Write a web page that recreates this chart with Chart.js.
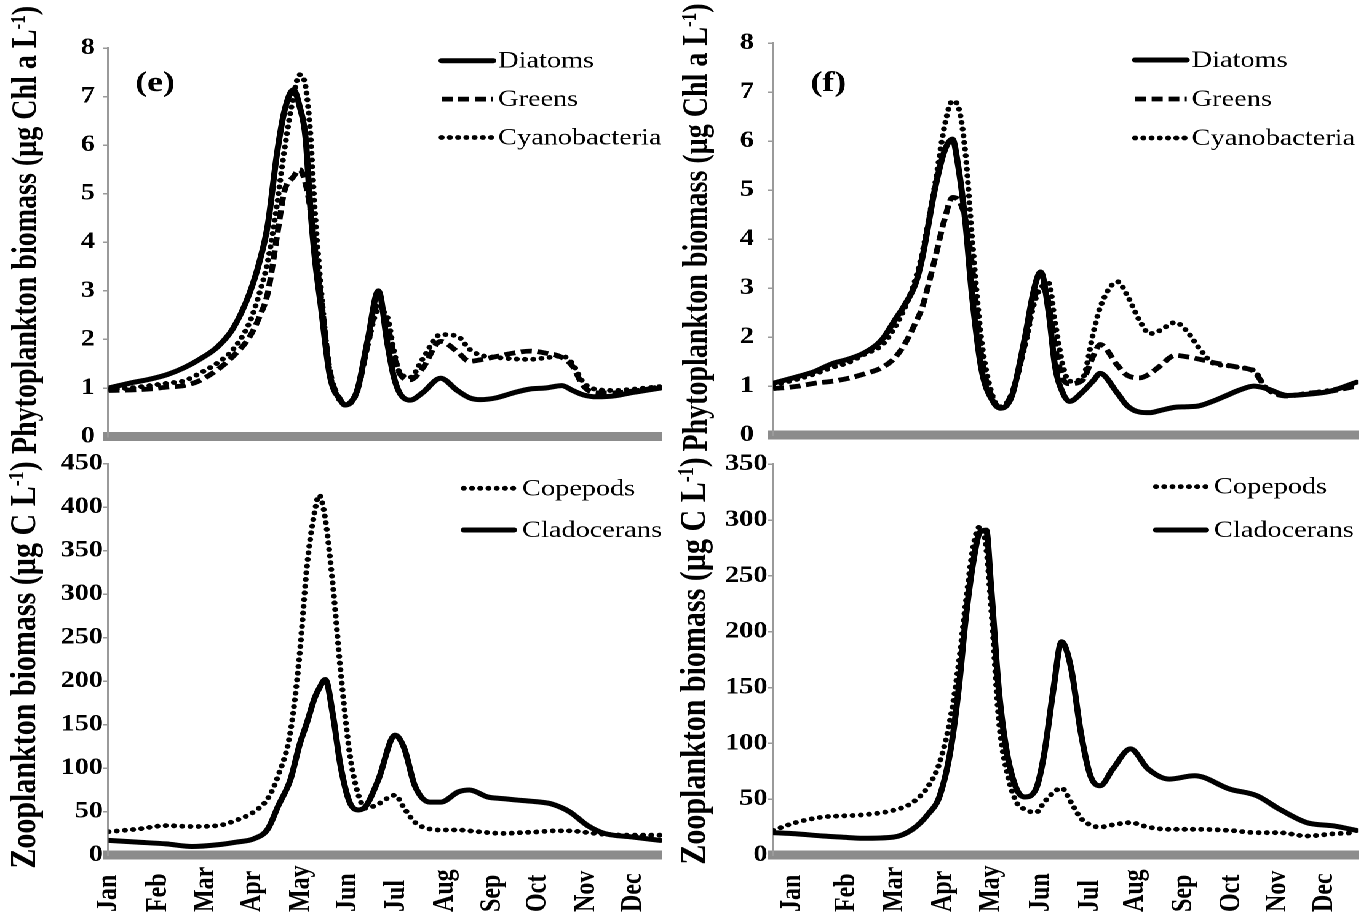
<!DOCTYPE html>
<html>
<head>
<meta charset="utf-8">
<script src="https://cdn.jsdelivr.net/npm/chart.js@4.4.1/dist/chart.umd.min.js"></script>
<style>
  html, body { margin: 0; padding: 0; background: #fff; }
  /* the figure is set slightly wide: everything is drawn narrow, then stretched */
  #sheet { position: absolute; left: 0; top: 0; width: 1110.6px; height: 924px;
           transform: scaleX(1.23); transform-origin: 0 0; }
  #sheet canvas { position: absolute; }
</style>
</head>
<body>
<div id="sheet">
  <canvas id="phytoE" width="556" height="460" style="left:0;top:0;width:556px;height:460px"></canvas>
  <canvas id="zooE" width="556" height="476" style="left:0;top:448px;width:556px;height:476px"></canvas>
  <canvas id="phytoF" width="571" height="460" style="left:540px;top:0;width:571px;height:460px"></canvas>
  <canvas id="zooF" width="571" height="476" style="left:540px;top:448px;width:571px;height:476px"></canvas>
</div>
<script>
const months = ['Jan', 'Feb', 'Mar', 'Apr', 'May', 'Jun', 'Jul', 'Aug', 'Sep', 'Oct', 'Nov', 'Dec'];
const monthDaysE = [0, 33, 64, 95, 127, 158, 190, 222, 253, 283, 315, 346];
const monthDaysF = [12, 46, 76, 106, 136, 167, 198, 226, 256, 286, 315, 344];

const phytoTicks = [0, 1, 2, 3, 4, 5, 6, 7, 8];
const zooTicksE = [0, 50, 100, 150, 200, 250, 300, 350, 400, 450];
const zooTicksF = [0, 50, 100, 150, 200, 250, 300, 350];

// (e) phytoplankton, µg Chl a / L
const phytoDaysE = [0, 14, 27, 39, 50, 60, 72, 82, 93, 100, 105, 111, 116, 122, 126, 130, 133, 136, 140, 146, 153, 156, 164, 171, 178, 184, 188, 192, 199, 207, 219, 230, 238, 245, 256, 267, 278, 288, 299, 306, 313, 322, 334, 344, 354, 364];
const diatomsE = [1.0, 1.1, 1.18, 1.28, 1.42, 1.59, 1.85, 2.22, 2.95, 3.65, 4.35, 5.8, 6.7, 7.14, 6.8, 6.14, 4.76, 3.7, 2.7, 1.25, 0.75, 0.65, 0.95, 2.0, 3.0, 1.9, 1.25, 0.9, 0.75, 0.9, 1.2, 0.95, 0.8, 0.76, 0.8, 0.9, 0.98, 1.0, 1.05, 0.95, 0.86, 0.82, 0.84, 0.9, 0.95, 1.0];
const greensE = [0.95, 0.96, 0.98, 1.02, 1.05, 1.15, 1.38, 1.65, 2.05, 2.5, 2.95, 4.1, 5.05, 5.35, 5.5, 5.2, 4.7, 3.9, 2.9, 1.35, 0.75, 0.66, 0.95, 1.9, 2.75, 2.3, 1.7, 1.3, 1.17, 1.4, 1.96, 1.75, 1.55, 1.58, 1.65, 1.72, 1.76, 1.72, 1.63, 1.45, 1.05, 0.9, 0.9, 0.93, 0.97, 1.03];
const cyanoE = [0.97, 1.0, 1.05, 1.1, 1.15, 1.3, 1.52, 1.79, 2.35, 3.0, 3.6, 4.75, 5.9, 7.0, 7.45, 7.2, 6.3, 4.7, 3.1, 1.31, 0.72, 0.65, 0.92, 1.9, 2.6, 2.45, 1.8, 1.32, 1.22, 1.59, 2.1, 2.07, 1.8, 1.68, 1.63, 1.6, 1.59, 1.62, 1.66, 1.5, 1.12, 0.97, 0.95, 0.97, 1.0, 1.03];

// (f) phytoplankton
const phytoDaysF = [0, 16, 26, 37, 47, 57, 68, 76, 82, 89, 93, 101, 107, 112, 115, 120, 124, 130, 137, 142, 149, 157, 163, 167, 172, 176, 181, 185, 193, 200, 204, 215, 221, 229, 235, 241, 251, 258, 266, 275, 283, 291, 300, 308, 321, 335, 348, 364];
const diatomsF = [1.06, 1.2, 1.3, 1.46, 1.55, 1.68, 1.95, 2.35, 2.65, 3.1, 3.6, 5.02, 5.8, 6.04, 5.6, 4.35, 2.9, 1.35, 0.7, 0.55, 0.8, 1.97, 3.0, 3.33, 2.5, 1.4, 0.85, 0.69, 0.88, 1.12, 1.26, 0.85, 0.6, 0.47, 0.46, 0.5, 0.57, 0.58, 0.6, 0.7, 0.81, 0.92, 1.0, 0.95, 0.81, 0.84, 0.9, 1.08];
const greensF = [0.95, 1.0, 1.06, 1.1, 1.16, 1.25, 1.38, 1.58, 1.85, 2.3, 2.6, 3.6, 4.4, 4.85, 4.82, 4.4, 3.5, 1.6, 0.75, 0.57, 0.85, 1.85, 2.8, 3.05, 2.7, 1.8, 1.15, 1.05, 1.12, 1.63, 1.85, 1.42, 1.22, 1.17, 1.25, 1.4, 1.63, 1.6, 1.55, 1.48, 1.43, 1.38, 1.3, 0.95, 0.8, 0.86, 0.9, 1.0];
const cyanoF = [1.02, 1.15, 1.25, 1.38, 1.48, 1.65, 1.84, 2.2, 2.58, 3.2, 3.7, 5.1, 6.3, 6.82, 6.75, 5.77, 4.1, 1.95, 0.8, 0.58, 0.85, 1.8, 2.7, 3.0, 3.1, 2.3, 1.4, 1.1, 1.16, 2.11, 2.6, 3.13, 2.85, 2.32, 2.07, 2.13, 2.3, 2.13, 1.77, 1.46, 1.42, 1.38, 1.32, 0.95, 0.81, 0.86, 0.92, 1.02];

// (e) zooplankton, µg C / L
const zooDaysE = [0, 19, 38, 55, 72, 84, 96, 105, 112, 120, 126, 131, 136, 139, 143, 148, 153, 159, 165, 170, 178, 189, 195, 202, 212, 219, 231, 238, 250, 260, 272, 285, 292, 304, 316, 327, 345, 364];
const copepodsE = [27, 30, 34, 33, 34, 40, 50, 65, 92, 142, 230, 334, 395, 414, 386, 310, 213, 118, 68, 54, 59, 69, 54, 38, 30, 29, 29, 28, 26, 25, 26, 27, 28, 28, 26, 24, 23, 23];
const cladoceransE = [17, 15, 13, 10, 12, 15, 19, 30, 57, 87, 127, 153, 181, 192, 202, 161, 103, 61, 52, 57, 87, 138, 123, 80, 61, 61, 73, 75, 67, 65, 63, 61, 59, 50, 34, 25, 21, 17];

// (f) zooplankton
const zooDaysF = [0, 14, 31, 43, 56, 75, 87, 97, 104, 111, 116, 120, 125, 129, 133, 136, 141, 146, 152, 157, 164, 169, 175, 180, 186, 192, 198, 204, 212, 223, 234, 247, 263, 285, 302, 316, 333, 350, 364];
const copepodsF = [22, 29, 34, 35, 36, 40, 47, 62, 83, 125, 173, 223, 277, 294, 275, 223, 119, 74, 47, 41, 38, 47, 56, 60, 47, 33, 27, 25, 27, 29, 25, 23, 23, 22, 20, 20, 17, 19, 20];
const cladoceransF = [20, 19, 17, 16, 15, 16, 23, 37, 53, 96, 151, 209, 263, 289, 291, 241, 146, 91, 59, 52, 59, 89, 149, 191, 167, 110, 71, 62, 77, 95, 77, 68, 71, 59, 53, 41, 29, 26, 22];

const SERIF = '"Liberation Serif", "Times New Roman", serif';
Chart.defaults.font.family = SERIF;
Chart.defaults.color = '#000';

const SOLID = { borderDash: [], borderWidth: 5, borderCapStyle: 'round' };
const DASHED = { borderDash: [9, 4.5], borderWidth: 4.8, borderCapStyle: 'butt' };
const DOTTED = { borderDash: [0.1, 6.6], borderWidth: 4.8, borderCapStyle: 'round' };

function series(label, days, values, style) {
  return Object.assign({
    label,
    data: days.map((d, i) => ({ x: d, y: values[i] })),
    borderColor: '#000',
    pointRadius: 0,
    borderJoinStyle: 'round',
    cubicInterpolationMode: 'monotone'
  }, style);
}

// panel letter, rotated axis title with exponent, line legend and month labels
const panelDecor = {
  id: 'panelDecor',
  afterDraw(chart, args, o) {
    const ctx = chart.ctx;
    ctx.save();
    ctx.fillStyle = '#000';

    ctx.font = 'bold 29px ' + SERIF;
    ctx.textAlign = 'left';
    ctx.textBaseline = 'alphabetic';
    ctx.fillText(o.tag.text, o.tag.x, o.tag.y);

    const t = o.title;
    const big = 'bold ' + t.size + 'px ' + SERIF;
    const small = 'bold ' + Math.round(t.size * 0.6) + 'px ' + SERIF;
    ctx.save();
    ctx.translate(t.x, t.y);
    ctx.rotate(-Math.PI / 2);
    ctx.textBaseline = 'middle';
    ctx.font = big;
    const w1 = ctx.measureText(t.text).width;
    const w3 = ctx.measureText(')').width;
    ctx.font = small;
    const w2 = ctx.measureText('-1').width;
    let x = -(w1 + w2 + w3) / 2;
    ctx.font = big;
    ctx.fillText(t.text, x, 0);
    x += w1;
    ctx.font = small;
    ctx.fillText('-1', x, -t.size * 0.22);
    x += w2;
    ctx.font = big;
    ctx.fillText(')', x, 0);
    ctx.restore();

    const lg = o.legend;
    chart.data.datasets.forEach((ds, i) => {
      const y = lg.y + i * lg.gap;
      ctx.save();
      ctx.strokeStyle = ds.borderColor;
      ctx.lineWidth = ds.borderWidth;
      ctx.lineCap = ds.borderCapStyle;
      ctx.setLineDash(ds.borderDash);
      ctx.beginPath();
      ctx.moveTo(lg.x0, y);
      ctx.lineTo(lg.x1, y);
      ctx.stroke();
      ctx.restore();
      ctx.font = '23px ' + SERIF;
      ctx.textBaseline = 'middle';
      ctx.fillText(ds.label, lg.textX, y + 1);
    });

    if (o.monthsY) {
      const xs = chart.scales.x;
      ctx.font = 'bold 24px ' + SERIF;
      ctx.textAlign = 'left';
      ctx.textBaseline = 'middle';
      xs.ticks.forEach((tk, i) => {
        ctx.save();
        ctx.translate(xs.getPixelForValue(tk.value), o.monthsY);
        ctx.rotate(-Math.PI / 2);
        ctx.fillText(months[i], 0, 0);
        ctx.restore();
      });
    }
    ctx.restore();
  }
};

function makePanel(id, p) {
  new Chart(document.getElementById(id), {
    type: 'line',
    data: { datasets: p.datasets },
    options: {
      responsive: false,
      animation: false,
      devicePixelRatio: 2,
      events: [],
      layout: { padding: { left: 0, top: p.top, right: p.right, bottom: 0 } },
      scales: {
        x: {
          type: 'linear', min: 0, max: 365,
          afterBuildTicks: s => { s.ticks = p.monthDays.map(v => ({ value: v })); },
          afterFit: s => { s.height = p.xHeight; },
          ticks: { display: false },
          grid: { display: true, drawOnChartArea: false, drawTicks: false, color: 'rgba(0,0,0,0)' },
          border: { display: true, color: '#8c8c8c', width: 9 }
        },
        y: {
          type: 'linear', min: p.yTicks[0], max: p.yTicks[p.yTicks.length - 1],
          afterBuildTicks: s => { s.ticks = p.yTicks.map(v => ({ value: v })); },
          afterFit: s => { s.width = p.yWidth; },
          ticks: { color: '#000', padding: p.tickPad, font: { family: SERIF, size: 23, weight: 'bold' } },
          grid: { display: true, drawOnChartArea: false, drawTicks: true, tickLength: 4.5, color: '#9a9a9a', lineWidth: 1.5 },
          border: { display: true, color: '#9a9a9a', width: 2 }
        }
      },
      plugins: {
        legend: { display: false },
        tooltip: { enabled: false },
        panelDecor: p.decor
      }
    },
    plugins: [panelDecor]
  });
}

makePanel('phytoE', {
  datasets: [
    series('Diatoms', phytoDaysE, diatomsE, SOLID),
    series('Greens', phytoDaysE, greensE, DASHED),
    series('Cyanobacteria', phytoDaysE, cyanoE, DOTTED)
  ],
  yTicks: phytoTicks, monthDays: monthDaysE,
  top: 48, right: 17.8, xHeight: 23.4, yWidth: 88.2, tickPad: 6.5,
  decor: {
    tag: { text: '(e)', x: 110, y: 91 },
    title: { text: 'Phytoplankton biomass (µg Chl a L', size: 28, x: 21.7, y: 230 },
    legend: { x0: 359, x1: 401, textX: 405, y: 60.7, gap: 38.4 }
  }
});

makePanel('zooE', {
  datasets: [
    series('Copepods', zooDaysE, copepodsE, DOTTED),
    series('Cladocerans', zooDaysE, cladoceransE, SOLID)
  ],
  yTicks: zooTicksE, monthDays: monthDaysE,
  top: 15.8, right: 17.8, xHeight: 68.8, yWidth: 88.2, tickPad: 0,
  decor: {
    tag: { text: '', x: 0, y: 0 },
    title: { text: 'Zooplankton biomass (µg C L', size: 30, x: 20.7, y: 217 },
    legend: { x0: 377, x1: 418, textX: 424.5, y: 40.3, gap: 41.7 },
    monthsY: 464
  }
});

makePanel('phytoF', {
  datasets: [
    series('Diatoms', phytoDaysF, diatomsF, SOLID),
    series('Greens', phytoDaysF, greensF, DASHED),
    series('Cyanobacteria', phytoDaysF, cyanoF, DOTTED)
  ],
  yTicks: phytoTicks, monthDays: monthDaysF,
  top: 43, right: 6.9, xHeight: 23, yWidth: 88.5, tickPad: 11,
  decor: {
    tag: { text: '(f)', x: 119, y: 91 },
    title: { text: 'Phytoplankton biomass (µg Chl a L', size: 28, x: 27.2, y: 227.5 },
    legend: { x0: 382.8, x1: 424.8, textX: 428.9, y: 60, gap: 39 }
  }
});

makePanel('zooF', {
  datasets: [
    series('Copepods', zooDaysF, copepodsF, DOTTED),
    series('Cladocerans', zooDaysF, cladoceransF, SOLID)
  ],
  yTicks: zooTicksF, monthDays: monthDaysF,
  top: 16.2, right: 6.9, xHeight: 69, yWidth: 88.5, tickPad: 0,
  decor: {
    tag: { text: '', x: 0, y: 0 },
    title: { text: 'Zooplankton biomass (µg C L', size: 30, x: 25.2, y: 213 },
    legend: { x0: 399.8, x1: 440.5, textX: 447, y: 38.7, gap: 43.3 },
    monthsY: 464
  }
});
</script>
</body>
</html>
